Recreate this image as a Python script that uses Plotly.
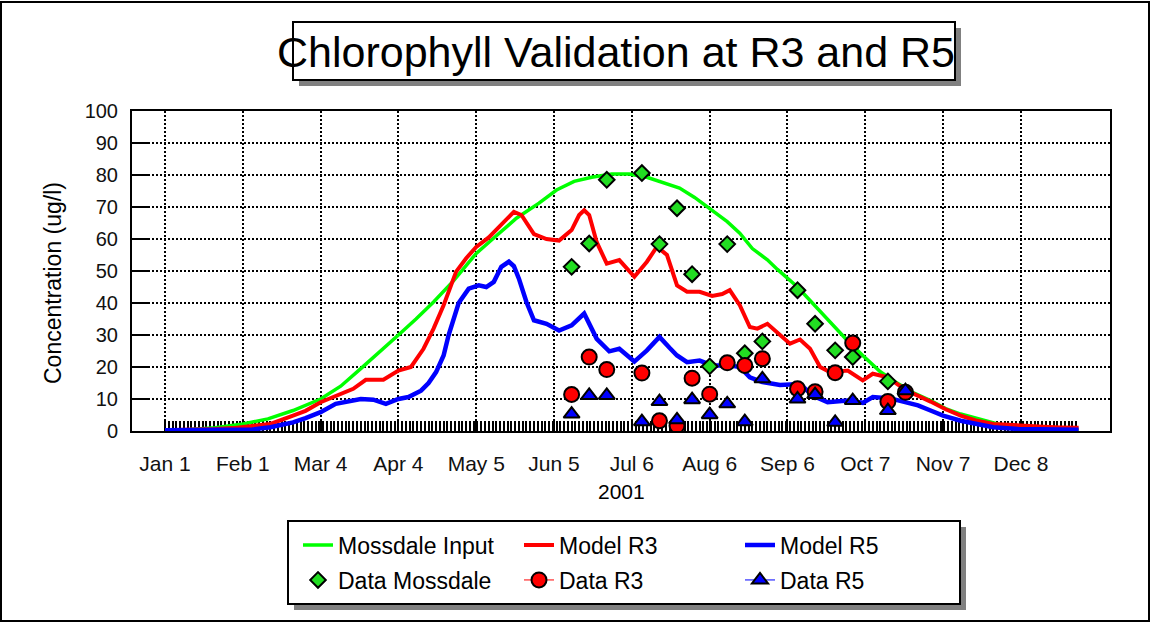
import pandas as pd
import plotly.graph_objects as go

BASE = pd.Timestamp("2001-01-01")

# ---- model curves (day of year offset from Jan 1, value ug/l) ----
mossdale_days = [0, 10, 20, 31, 41, 51, 62, 70, 78, 86, 93, 100, 107, 115, 124, 132, 140, 149, 156, 163,
                 170, 178, 185, 192, 199, 205, 211, 216, 224, 229, 234, 240, 244, 252, 258, 265, 271, 278,
                 285, 291, 298, 305, 311, 317, 323, 328, 335, 343, 350, 357, 364]
mossdale_vals = [0.3, 0.5, 1.0, 2.2, 3.8, 6.4, 10, 14, 19.5, 25, 30, 35, 40.3, 47, 55.5, 61, 66.5, 71.2, 75.3, 78,
                 79.3, 80.3, 80.3, 79.3, 77.5, 75.9, 73, 70, 65.4, 61.8, 57, 53.5, 50.5, 45, 40, 34, 29, 23.6,
                 18.5, 15.3, 12, 9.5, 7, 5.3, 4, 3, 1.5, 0.5, 0.3, 0.2, 0.1]

r3_days = [0, 10, 20, 27, 35, 42, 51, 56, 62, 68, 75, 80, 87, 93, 98, 103, 107, 111, 116, 120, 124, 129, 134,
           139, 142, 147, 152, 157, 162, 165, 167, 169, 172, 176, 181, 184, 187, 192, 196, 200, 204, 208, 213,
           218, 222, 225, 229, 233, 236, 240, 245, 249, 253, 257, 261, 265, 272, 278, 282, 288, 292, 297, 305,
           311, 317, 323, 330, 340, 350, 357, 364]
r3_vals = [0.2, 0.3, 0.6, 0.9, 1.5, 2.2, 4.8, 6.3, 9, 11, 13.2, 16, 16, 18.9, 20, 25.7, 32, 39.3, 49.8, 54, 57.5,
           60.5, 64.5, 68.5, 67.5, 61.5, 60, 59.5, 62.8, 67.5, 69, 67.5, 59, 52.3, 53.4, 51, 48.2, 52.9, 57.6, 55,
           45.5, 43.5, 43.5, 42.2, 42.8, 44, 39.3, 32.5, 32, 33.5, 29.9, 27.3, 28.6, 25.7, 20, 18.4, 18.9, 15.8,
           17.9, 16.8, 14.5, 12.1, 9.2, 6.8, 4.8, 3.3, 2.2, 1.6, 1.3, 1.1, 1.0]

r5_days = [0, 20, 27, 35, 42, 51, 56, 62, 68, 73, 78, 83, 88, 93, 97, 102, 105, 108, 111, 113, 117, 121, 125,
           128, 131, 134, 137, 139, 141, 144, 147, 152, 157, 162, 167, 172, 177, 181, 184, 187, 192, 197, 201,
           204, 208, 213, 218, 225, 229, 233, 238, 245, 253, 258, 264, 272, 278, 282, 289, 297, 300, 305, 310,
           317, 323, 330, 340, 350, 364]
r5_vals = [0.2, 0.2, 0.2, 0.5, 1.2, 2.7, 4, 5.9, 8.5, 9.3, 10, 9.8, 8.5, 10, 10.6, 12.6, 15, 18.4, 23.6, 30, 40,
           44.5, 45.5, 45, 46.6, 51.3, 52.9, 51.5, 47.6, 40.3, 34.6, 33.5, 31.4, 33, 36.7, 28.8, 24.9, 25.7, 23.5,
           21.7, 25.2, 29.4, 26, 23.6, 21.5, 22, 20.5, 20.5, 20, 16.8, 15.3, 14.4, 14.7, 11.1, 9, 9.5, 8.8, 10.6,
           10.2, 8.8, 8.0, 6.4, 4.8, 3.2, 2.2, 1.2, 0.6, 0.5, 0.4]

# ---- observed data ----
data_moss_days = [162, 169, 176, 190, 197, 204, 210, 217, 224, 231, 238, 252, 259, 267, 274, 288]
data_moss_vals = [51.3, 58.6, 78.5, 80.6, 58.4, 69.6, 49, 20.2, 58.4, 24.3, 28, 44, 33.5, 25.2, 23.1, 15.5]

data_r3_days = [162, 169, 176, 190, 197, 204, 210, 217, 224, 231, 238, 252, 259, 267, 274, 288, 295]
data_r3_vals = [11.4, 23.1, 19.2, 18.1, 3.2, 1.7, 16.5, 11.5, 21.3, 20.5, 22.6, 13.2, 12.3, 18.2, 27.5, 9.2, 12.1]

data_r5_days = [162, 169, 176, 190, 197, 204, 210, 217, 224, 231, 238, 252, 259, 267, 274, 288, 295]
data_r5_vals = [5.3, 11.1, 11.1, 2.9, 9.2, 3.5, 9.8, 5.1, 8.5, 2.9, 16.3, 10, 11.4, 2.7, 9.5, 6.4, 12.6]

tick_dates = ["2001-01-01", "2001-02-01", "2001-03-04", "2001-04-04", "2001-05-05", "2001-06-05",
              "2001-07-06", "2001-08-06", "2001-09-06", "2001-10-07", "2001-11-07", "2001-12-08"]
tick_labels = ["Jan 1", "Feb 1", "Mar 4", "Apr 4", "May 5", "Jun 5",
               "Jul 6", "Aug 6", "Sep 6", "Oct 7", "Nov 7", "Dec 8"]


def to_dates(days):
    return [BASE + pd.Timedelta(days=d) for d in days]


W, H = 1151, 624
PL, PR, PT, PB = 132, 1110, 111, 431


def px(x):
    return (x - PL) / (PR - PL)


def py(y):
    return (PB - y) / (PB - PT)


FONT = "Liberation Sans, Arial, sans-serif"
GREEN, RED, BLUE = "#00ff00", "#ff0000", "#0000ff"

fig = go.Figure()

fig.add_trace(go.Scatter(x=to_dates(mossdale_days), y=mossdale_vals, mode="lines", name="Mossdale Input",
                         line=dict(color=GREEN, width=3.5), legend="legend"))
fig.add_trace(go.Scatter(x=to_dates(r3_days), y=r3_vals, mode="lines", name="Model R3",
                         line=dict(color=RED, width=4), legend="legend"))
fig.add_trace(go.Scatter(x=to_dates(r5_days), y=r5_vals, mode="lines", name="Model R5",
                         line=dict(color=BLUE, width=4.5), legend="legend"))

fig.add_trace(go.Scatter(x=to_dates(data_moss_days), y=data_moss_vals, mode="markers", name="Data Mossdale",
                         marker=dict(symbol="diamond", size=12, color="#22dd22", line=dict(color="black", width=2)),
                         legend="legend2"))
fig.add_trace(go.Scatter(x=to_dates(data_r3_days), y=data_r3_vals, mode="markers", name="Data R3",
                         legendgroup="r3", showlegend=False,
                         marker=dict(symbol="circle", size=15, color=RED, line=dict(color="black", width=2))))
fig.add_trace(go.Scatter(x=[None], y=[None], mode="lines+markers", name="Data R3", legendgroup="r3",
                         line=dict(color=RED, width=1),
                         marker=dict(symbol="circle", size=15, color=RED, line=dict(color="black", width=2)),
                         legend="legend2"))
fig.add_trace(go.Scatter(x=to_dates(data_r5_days), y=data_r5_vals, mode="markers", name="Data R5",
                         legendgroup="r5", showlegend=False,
                         marker=dict(symbol="triangle-up", size=14, color=BLUE, line=dict(color="black", width=2))))
fig.add_trace(go.Scatter(x=[None], y=[None], mode="lines+markers", name="Data R5", legendgroup="r5",
                         line=dict(color=BLUE, width=1),
                         marker=dict(symbol="triangle-up", size=14, color=BLUE, line=dict(color="black", width=2)),
                         legend="legend2"))

minor_ticks = pd.date_range("2001-01-01", "2001-12-31", freq="36h")

fig.update_xaxes(
    type="date",
    range=[BASE - pd.Timedelta(days=13.15), BASE + pd.Timedelta(days=376.5)],
    tickmode="array", tickvals=tick_dates, ticktext=tick_labels,
    showgrid=True, gridcolor="black", gridwidth=1.5, griddash="2px,2px",
    showline=True, linecolor="black", linewidth=2, mirror=True,
    ticks="inside", ticklen=10, tickwidth=2, tickcolor="black",
    minor=dict(tickmode="array", tickvals=list(minor_ticks), ticks="inside", ticklen=10, tickwidth=2,
               tickcolor="black", showgrid=False),
    tickfont=dict(family=FONT, size=21, color="#111"),
    ticklabelstandoff=13,
    layer="below traces",
    zeroline=False,
)
fig.update_yaxes(
    range=[0, 100], tickmode="linear", tick0=0, dtick=10,
    showgrid=True, gridcolor="black", gridwidth=1.5, griddash="2px,2px",
    showline=True, linecolor="black", linewidth=2, mirror=True,
    ticks="inside", ticklen=16, tickwidth=2, tickcolor="black",
    tickfont=dict(family=FONT, size=20, color="#111"),
    ticklabelstandoff=8,
    layer="below traces",
    zeroline=False,
)

shapes = [
    # outer frame
    dict(type="rect", xref="paper", yref="paper", x0=px(1), x1=px(1149), y0=py(621), y1=py(2),
         line=dict(color="black", width=2), fillcolor="rgba(0,0,0,0)", layer="above"),
    # title shadow + box
    dict(type="rect", xref="paper", yref="paper", x0=px(299), x1=px(961), y0=py(86), y1=py(28),
         line=dict(width=0), fillcolor="#808080", layer="below"),
    dict(type="rect", xref="paper", yref="paper", x0=px(293), x1=px(955), y0=py(80), y1=py(22),
         line=dict(color="black", width=2), fillcolor="white", layer="below"),
    # legend shadow + box
    dict(type="rect", xref="paper", yref="paper", x0=px(294), x1=px(966), y0=py(610), y1=py(527),
         line=dict(width=0), fillcolor="#808080", layer="below"),
    dict(type="rect", xref="paper", yref="paper", x0=px(288), x1=px(960), y0=py(604), y1=py(521),
         line=dict(color="black", width=2), fillcolor="white", layer="below"),
]

annotations = [
    dict(text="Concentration (ug/l)", xref="paper", yref="paper", x=px(53), y=py(283), textangle=-90,
         showarrow=False, font=dict(family=FONT, size=23, color="black"), xanchor="center", yanchor="middle"),
    dict(text="2001", xref="paper", yref="paper", x=px(621), y=py(491), showarrow=False,
         font=dict(family=FONT, size=21, color="black"), xanchor="center", yanchor="middle"),
]

legend_common = dict(orientation="h", xanchor="left", yanchor="middle", xref="paper", yref="paper",
                     bgcolor="rgba(0,0,0,0)", borderwidth=0, entrywidth=176, entrywidthmode="pixels",
                     font=dict(family=FONT, size=23, color="black"), traceorder="normal")

fig.update_layout(
    width=W, height=H,
    margin=dict(l=PL, r=W - PR, t=PT, b=H - PB),
    paper_bgcolor="white", plot_bgcolor="white",
    title=dict(text="Chlorophyll Validation at R3 and R5", x=616 / W, y=1 - 52 / H,
               xref="container", yref="container", xanchor="center", yanchor="middle",
               font=dict(family=FONT, size=43, color="black")),
    shapes=shapes, annotations=annotations,
    legend=dict(x=px(298), y=py(545), **legend_common),
    legend2=dict(x=px(298), y=py(580), **legend_common),
    showlegend=True,
)

fig.write_html("out.html", config={"displayModeBar": False},
               post_script="document.body.style.margin='0';document.body.style.overflow='hidden';")
